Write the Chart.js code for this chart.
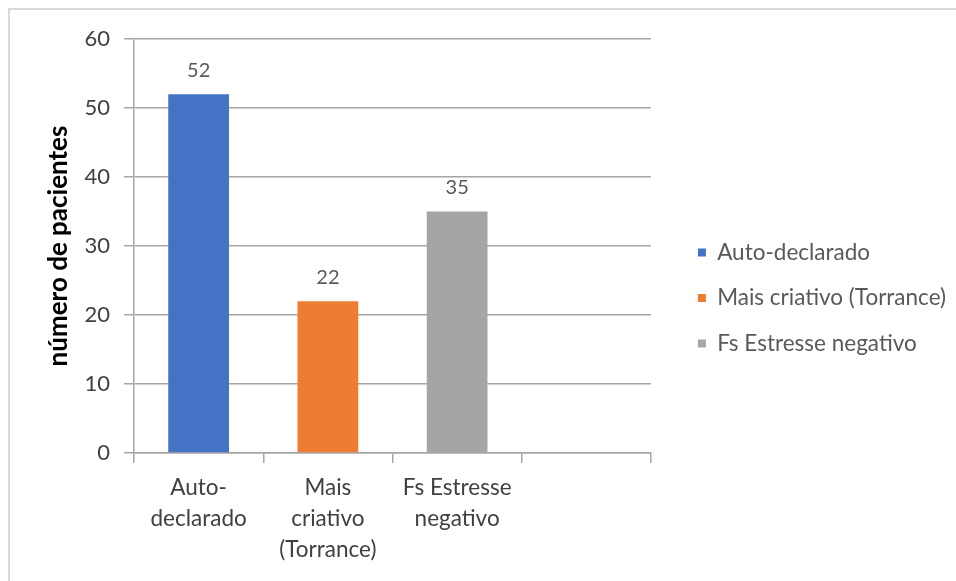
<!DOCTYPE html>
<html lang="pt">
<head>
<meta charset="utf-8">
<title>número de pacientes</title>
<script src="https://cdn.jsdelivr.net/npm/chart.js@4.4.1/dist/chart.umd.min.js"></script>
<style>
  html, body { margin: 0; padding: 0; background: #fff; }
  #wrap { width: 956px; height: 581px; }
</style>
</head>
<body>
<div id="wrap"><canvas id="chart" width="956" height="581"></canvas></div>
<script>
// Data
const categories = [['Auto-', 'declarado'], ['Mais', 'criativo', '(Torrance)'], ['Fs Estresse', 'negativo'], ''];
const seriesNames = ['Auto-declarado', 'Mais criativo (Torrance)', 'Fs Estresse negativo'];
const seriesValues = [52, 22, 35];
const seriesColors = ['#4472C4', '#ED7D31', '#A5A5A5'];
const yTicks = [0, 10, 20, 30, 40, 50, 60];

const gridColor = '#a6a6a6';
const legendFontSize = 22.5;
const legendPadding = 23;
const legendItemX = 698; // where the legend squares should start
const plotRight = 651;   // right edge of the plot area

// one dataset per series, each sitting in its own category
const datasets = seriesNames.map((name, i) => ({
    label: name,
    data: categories.map((c, j) => (j === i ? seriesValues[i] : null)),
    backgroundColor: seriesColors[i],
    borderWidth: 0
}));

// light frame on the top and left edges
const frame = {
    id: 'frame',
    beforeDraw(chart) {
        const ctx = chart.ctx;
        ctx.save();
        ctx.fillStyle = '#fff';
        ctx.fillRect(0, 0, chart.width, chart.height);
        ctx.strokeStyle = '#d9d9d9';
        ctx.lineWidth = 2;
        ctx.beginPath();
        ctx.moveTo(9, chart.height);
        ctx.lineTo(9, 9);
        ctx.lineTo(chart.width, 9);
        ctx.stroke();
        ctx.restore();
    },
    // let the x labels run below the (shortened) axis box
    afterLayout(chart) {
        chart.scales.x.bottom = chart.height;
    }
};

// value labels above the bars
const barLabels = {
    id: 'barLabels',
    afterDatasetsDraw(chart) {
        const ctx = chart.ctx;
        ctx.save();
        ctx.font = '20px Lato';
        ctx.fillStyle = '#595959';
        ctx.textAlign = 'center';
        ctx.textBaseline = 'middle';
        chart.data.datasets.forEach((ds, i) => {
            chart.getDatasetMeta(i).data.forEach((bar, j) => {
                const v = ds.data[j];
                if (v === null || v === undefined) return;
                ctx.fillText(String(v), bar.x, bar.y - 24);
            });
        });
        ctx.restore();
    }
};

function draw() {
    Chart.defaults.font.family = 'Lato';
    Chart.defaults.color = '#404040';

    // measure the legend so the plot ends at plotRight and squares land near legendItemX
    const canvas = document.getElementById('chart');
    const mctx = canvas.getContext('2d');
    mctx.font = legendFontSize + 'px Lato';
    const textW = Math.max(...seriesNames.map(n => mctx.measureText(n).width));
    const legendW = 8 + legendFontSize / 2 + textW + legendPadding + 10;
    const padRight = Math.max(0, canvas.width - (legendItemX - legendPadding) - legendW);
    const legendLeft = canvas.width - padRight - legendW;

    new Chart(canvas, {
        type: 'bar',
        data: { labels: categories, datasets: datasets },
        options: {
            responsive: false,
            animation: false,
            layout: { padding: { top: 39, bottom: 24, left: 43, right: padRight } },
            datasets: {
                bar: { skipNull: true, categoryPercentage: 1, barPercentage: 0.47 }
            },
            plugins: {
                legend: {
                    position: 'right',
                    maxWidth: 500,
                    labels: {
                        boxWidth: 8,
                        boxHeight: 8,
                        padding: legendPadding,
                        color: '#595959',
                        font: { size: legendFontSize }
                    }
                },
                tooltip: { enabled: false }
            },
            scales: {
                x: {
                    grid: {
                        offset: true,
                        drawOnChartArea: false,
                        tickLength: 10,
                        color: gridColor,
                        lineWidth: 1.5
                    },
                    border: { color: gridColor, width: 1.5 },
                    ticks: {
                        autoSkip: false,
                        maxRotation: 0,
                        padding: 9,
                        font: { size: 22.5, lineHeight: 1.38 }
                    },
                    afterFit(scale) { scale.height = 104; }
                },
                y: {
                    min: 0,
                    max: 60,
                    afterBuildTicks(scale) { scale.ticks = yTicks.map(v => ({ value: v })); },
                    grid: { tickLength: 10, color: gridColor, lineWidth: 1.5 },
                    border: { color: gridColor, width: 1.5 },
                    ticks: { padding: 14, font: { size: 22 } },
                    title: {
                        display: true,
                        text: 'número de pacientes',
                        color: '#000',
                        font: { size: 26, weight: 'bold', lineHeight: 1.2 },
                        padding: { top: 0, bottom: 0 }
                    },
                    afterFit(scale) { scale.width = 91; }
                },
                // empty strip between the plot and the legend
                spacer: {
                    type: 'linear',
                    position: 'right',
                    grid: { display: false },
                    border: { display: false },
                    ticks: { display: false },
                    afterFit(scale) { scale.width = Math.max(0, legendLeft - plotRight); }
                }
            }
        },
        plugins: [frame, barLabels]
    });
}

document.fonts.load('22px Lato').then(() => document.fonts.load('bold 26px Lato')).then(draw, draw);
</script>
</body>
</html>
